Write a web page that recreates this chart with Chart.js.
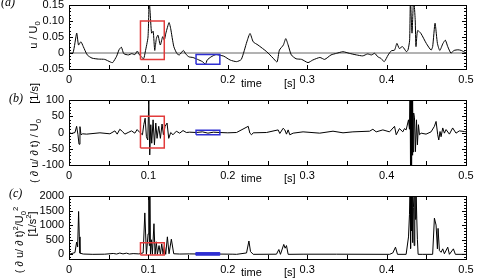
<!DOCTYPE html>
<html>
<head>
<meta charset="utf-8">
<script src="https://cdn.jsdelivr.net/npm/chart.js@4.4.1/dist/chart.umd.min.js"></script>
<style>
body { margin: 0; width: 477px; height: 278px; position: relative; overflow: hidden; background: #fff;
       font-family: "Liberation Sans", Arial, sans-serif; color: #000; }
canvas { position: absolute; left: 0; }
.tag { position: absolute; font-family: "Liberation Serif", serif; font-style: italic; font-size: 12px; }
.ytitle { position: absolute; transform: translate(-50%, -50%) rotate(-90deg); white-space: nowrap; font-size: 11px; }
.xtitle { position: absolute; font-size: 11px; white-space: nowrap; }
sub, sup { font-size: 70%; line-height: 0; }
</style>
</head>
<body>
<canvas id="chartA" width="477" height="90" style="top:0px"></canvas>
<canvas id="chartB" width="477" height="95" style="top:90px"></canvas>
<canvas id="chartC" width="477" height="93" style="top:185px"></canvas>

<div class="tag" style="left:1px; top:-5px">(a)</div>
<div class="tag" style="left:9px; top:91px">(b)</div>
<div class="tag" style="left:9px; top:186px">(c)</div>

<div class="ytitle" style="left:33px; top:35px">u / U<sub>0</sub></div>
<div class="ytitle" style="left:34px; top:133px">( &#8706; u/ &#8706; t) / U<sub>0</sub>&nbsp;&nbsp;&nbsp;&nbsp;&nbsp;[1/s]</div>
<div class="ytitle" style="left:19px; top:240px">( &#8706; u/ &#8706; t)<sup>2</sup>/U<sub>0</sub><sup>2</sup></div>
<div class="ytitle" style="left:32px; top:224px">[1/s<sup>2</sup>]</div>

<div class="xtitle" style="left:241px; top:77px">time</div>
<div class="xtitle" style="left:284px; top:77px">[s]</div>
<div class="xtitle" style="left:241px; top:172px">time</div>
<div class="xtitle" style="left:284px; top:172px">[s]</div>
<div class="xtitle" style="left:241px; top:266px">time</div>
<div class="xtitle" style="left:284px; top:266px">[s]</div>

<script>
// tick values and labels
var xTickVals = [0, 0.1, 0.2, 0.3, 0.4, 0.5];
var xTickLabels = ['0', '0.1', '0.2', '0.3', '0.4', '0.5'];
var yTickValsA = [-0.05, 0, 0.05, 0.1, 0.15];
var yTickLabelsA = ['-0.05', '0', '0.05', '0.10', '0.15'];
var yTickValsB = [-100, -50, 0, 50, 100];
var yTickLabelsB = ['-100', '-50', '0', '50', '100'];
var yTickValsC = [0, 500, 1000, 1500, 2000];
var yTickLabelsC = ['0', '500', '1000', '1500', '2000'];

// (a) u / U0 against time [s]
var velocityA = [
    [0, 0], [0.005, 0], [0.0097, 0.062], [0.012, 0.025], [0.015, 0.035], [0.018, 0.02], [0.023, -0.006],
    [0.029, -0.016], [0.037, -0.019], [0.045, -0.02], [0.052, -0.028], [0.055, -0.03], [0.06, -0.01],
    [0.063, 0.01], [0.066, 0.018], [0.069, -0.002], [0.075, -0.006], [0.079, -0.002], [0.083, -0.005],
    [0.086, 0.006], [0.088, -0.003], [0.091, -0.012], [0.094, -0.018], [0.096, 0.003], [0.0995, 0.05],
    [0.101, 0.165], [0.102, 0.134], [0.104, 0.062], [0.106, 0.068], [0.108, 0.008], [0.11, 0.045],
    [0.112, 0.056], [0.115, 0.025], [0.118, 0.051], [0.12, 0.04], [0.122, 0.062], [0.126, 0.095],
    [0.128, 0.077], [0.132, 0.02], [0.136, -0.002], [0.139, -0.006], [0.144, 0.008], [0.147, -0.003],
    [0.151, -0.012], [0.156, -0.014], [0.162, -0.02], [0.168, -0.027], [0.172, -0.035], [0.174, -0.022],
    [0.179, -0.012], [0.185, -0.005], [0.19, -0.007], [0.195, -0.01], [0.203, -0.022], [0.211, -0.027],
    [0.217, -0.02], [0.224, 0.035], [0.228, 0.061], [0.232, 0.035], [0.238, 0.025], [0.249, 0.004],
    [0.257, -0.016], [0.262, -0.028], [0.265, 0.009], [0.27, 0.025], [0.273, 0.045], [0.276, 0.025],
    [0.28, -0.006], [0.286, -0.018], [0.293, -0.02], [0.301, -0.03], [0.307, -0.022], [0.316, -0.014],
    [0.322, -0.02], [0.33, -0.006], [0.337, -0.001], [0.345, 0.004], [0.353, -0.001], [0.362, -0.006],
    [0.37, -0.009], [0.376, -0.003], [0.381, -0.006], [0.385, -0.001], [0.389, -0.012], [0.393, -0.017],
    [0.397, -0.027], [0.402, -0.006], [0.406, 0.007], [0.41, 0.009], [0.413, 0.03], [0.416, 0.014],
    [0.42, 0.02], [0.425, 0.004], [0.427, 0.01], [0.429, 0.04], [0.430, 0.17], [0.432, 0.062],
    [0.434, 0.17], [0.436, 0.105], [0.437, 0.02], [0.439, 0.07], [0.443, 0.062], [0.45, 0.03],
    [0.456, 0.009], [0.458, 0.02], [0.461, 0.093], [0.464, 0.03], [0.467, 0.008], [0.471, 0.03],
    [0.474, 0.04], [0.477, 0.02], [0.481, 0.0], [0.485, 0.008], [0.49, 0.01], [0.494, 0.008], [0.5, 0.0]
];
var zeroLineA = [[0, 0], [0.5, 0]];

// (b) (du/dt) / U0 [1/s]
var derivB = [
    [0, 0], [0.0033, -3], [0.0075, 0], [0.0096, 19], [0.0113, -7], [0.0126, -36], [0.0138, 18],
    [0.0151, -7], [0.0172, -4], [0.0222, -5], [0.039, -1], [0.0515, -4], [0.0578, 5], [0.0607, -5],
    [0.064, 10], [0.0674, 3], [0.0703, -5], [0.0745, 0], [0.0787, 5], [0.0829, -2], [0.0858, 9],
    [0.0892, 0], [0.0925, -7], [0.0942, 24], [0.0959, 44], [0.0975, -13], [0.0992, -23], [0.1005, 98],
    [0.1017, -69], [0.103, 24], [0.1042, -33], [0.1059, 39], [0.1076, -38], [0.1093, 29], [0.1109, -18],
    [0.113, 19], [0.1151, -18], [0.1172, 26], [0.1189, -7], [0.121, 19], [0.1235, 29], [0.1256, -18],
    [0.1281, 0], [0.131, -7], [0.1352, 4], [0.1394, -2], [0.1436, 6], [0.1478, 0], [0.152, 1],
    [0.1603, 0], [0.168, 2], [0.175, -2], [0.182, 1], [0.19, 0], [0.2, -1], [0.211, 0], [0.2257, 19],
    [0.2278, -2], [0.2299, -7], [0.232, -1], [0.2487, 0], [0.2634, 8], [0.2655, -3], [0.2697, 13],
    [0.2718, 8], [0.2739, -5], [0.276, 8], [0.2781, -7], [0.2823, -2], [0.2948, 2], [0.3158, -2],
    [0.3325, 4], [0.3451, -1], [0.3576, 2], [0.3786, 4], [0.3827, 10], [0.3869, 2], [0.3953, 8],
    [0.4037, 2], [0.41, 19], [0.4121, -7], [0.4162, 12], [0.4204, 2], [0.4225, 12], [0.4246, 8],
    [0.4276, 39], [0.4288, 10], [0.4296, 160], [0.4299, -160], [0.4302, 160], [0.4305, -160],
    [0.4308, 160], [0.4311, -160], [0.4314, 160], [0.4317, -160], [0.432, 160], [0.4325, -70],
    [0.433, 80], [0.4335, -60], [0.4341, 60], [0.4351, 45], [0.4363, -59], [0.4376, 39], [0.4388, -38],
    [0.4401, 24], [0.4414, -7], [0.4435, -2], [0.4497, -5], [0.456, 2], [0.4602, 19], [0.4623, 34],
    [0.4644, -7], [0.4657, -23], [0.4673, 3], [0.4686, -13], [0.4707, 14], [0.4728, -2], [0.4749, 9],
    [0.4791, -5], [0.4832, 14], [0.4874, -2], [0.4916, 5], [0.4979, 3], [0.5, 2]
];

// (c) (du/dt)^2 / U0^2 [1/s^2]
var squareC = [
    [0, 0], [0.0075, 60], [0.0096, 420], [0.0109, 250], [0.0121, 1470], [0.013, 600], [0.0138, 40],
    [0.018, 10], [0.03, 0], [0.045, 5], [0.0557, 30], [0.06, 10], [0.064, 45], [0.068, 15], [0.0724, 40],
    [0.076, 10], [0.0808, 25], [0.088, 15], [0.0934, 50], [0.0955, 1420], [0.0975, 0], [0.0996, 700],
    [0.1006, 2300], [0.1012, 300], [0.1018, 2300], [0.1026, 0], [0.1038, 500], [0.105, 0], [0.107, 1050],
    [0.1084, 0], [0.11, 430], [0.1113, 0], [0.1134, 300], [0.1151, 0], [0.1168, 360], [0.1185, 0],
    [0.1201, 300], [0.1218, 0], [0.1239, 600], [0.126, 20], [0.1289, 520], [0.1319, 20], [0.1394, 10],
    [0.152, 15], [0.17, 10], [0.1855, 10], [0.2064, 5], [0.211, 0], [0.2236, 47], [0.2266, 457],
    [0.2286, 95], [0.232, 0], [0.2613, 5], [0.2643, 165], [0.2663, 0], [0.2705, 340], [0.2722, 210],
    [0.2739, 300], [0.276, 0], [0.2948, 5], [0.3367, 5], [0.4037, 0], [0.4078, 47], [0.4112, 246],
    [0.4137, 0], [0.4246, 0], [0.4276, 597], [0.4288, 1357], [0.4296, 2300], [0.4302, 200],
    [0.4308, 2300], [0.4314, 800], [0.432, 2300], [0.4326, 400], [0.4332, 2300], [0.434, 1600],
    [0.4347, 300], [0.4355, 2300], [0.4363, 1200], [0.437, 2300], [0.438, 1240], [0.4388, 500],
    [0.4397, 0], [0.4456, 0], [0.458, 0], [0.4602, 1240], [0.4623, 1004], [0.464, 188], [0.4648, 890],
    [0.4665, 130], [0.4686, 70], [0.4707, 188], [0.4728, 20], [0.477, 246], [0.4791, 0], [0.4841, 188],
    [0.4866, 0], [0.5, 0]
];

// highlighted windows [t0, t1] and [v0, v1]
var redT = [0.09, 0.12];
var blueT = [0.16, 0.19];
var redA = [-0.02, 0.10];
var blueA = [-0.035, -0.005];
var redB = [-48, 50];
var blueB = [-7, 7];
var redC = [-25, 400];
var blueC = [-30, 60];

var tickFont = { family: '"Liberation Sans", Arial, sans-serif', size: 11 };

// frame with inward ticks on all four sides
var frameTicks = {
    id: 'frameTicks',
    afterDatasetsDraw: function (chart, args, opts) {
        var ctx = chart.ctx, a = chart.chartArea;
        var xs = chart.scales.x, ys = chart.scales.y;
        ctx.save();
        ctx.strokeStyle = '#000';
        ctx.lineWidth = 1;
        ctx.strokeRect(Math.round(a.left) + 0.5, Math.round(a.top) + 0.5,
            Math.round(a.right - a.left), Math.round(a.bottom - a.top));
        ctx.beginPath();
        for (var i = 0; i <= 10; i++) {
            var px = Math.round(xs.getPixelForValue(i * 0.05)) + 0.5;
            ctx.moveTo(px, a.bottom); ctx.lineTo(px, a.bottom - 4);
            ctx.moveTo(px, a.top); ctx.lineTo(px, a.top + 4);
        }
        var step = opts.minor, major = opts.major;
        for (var k = Math.ceil(ys.min / step); k * step <= ys.max + 1e-9; k++) {
            var v = k * step;
            var r = v / major;
            var len = Math.abs(r - Math.round(r)) < 1e-6 ? 4 : 2;
            var py = Math.round(ys.getPixelForValue(v)) + 0.5;
            ctx.moveTo(a.left, py); ctx.lineTo(a.left + len, py);
            ctx.moveTo(a.right, py); ctx.lineTo(a.right - len, py);
        }
        ctx.stroke();
        ctx.restore();
    }
};

function toPoints(pairs) {
    return pairs.map(function (p) { return { x: p[0], y: p[1] }; });
}

function boxPoints(tr, vr) {
    return [{ x: tr[0], y: vr[0] }, { x: tr[1], y: vr[0] }, { x: tr[1], y: vr[1] },
            { x: tr[0], y: vr[1] }, { x: tr[0], y: vr[0] }];
}

function makePanel(id, pad, xHeight, yMin, yMax, yVals, yLabels, minor, major, datasets) {
    var ctx = document.getElementById(id).getContext('2d');
    return new Chart(ctx, {
        type: 'line',
        data: { datasets: datasets },
        options: {
            responsive: false,
            animation: false,
            layout: { padding: { left: 0, right: 11, top: pad, bottom: 0 } },
            elements: { point: { radius: 0 }, line: { borderWidth: 1, tension: 0 } },
            plugins: { legend: { display: false }, tooltip: { enabled: false },
                       frameTicks: { minor: minor, major: major } },
            scales: {
                x: {
                    type: 'linear', min: 0, max: 0.5,
                    grid: { display: false, drawTicks: false }, border: { display: false },
                    afterBuildTicks: function (s) { s.ticks = xTickVals.map(function (v) { return { value: v }; }); },
                    afterFit: function (s) { s.height = xHeight; s.paddingLeft = 0; s.paddingRight = 0; },
                    ticks: { padding: 4, color: '#000', font: tickFont, maxRotation: 0, autoSkip: false,
                             callback: function (v, i) { return xTickLabels[i]; } }
                },
                y: {
                    type: 'linear', min: yMin, max: yMax,
                    grid: { display: false, drawTicks: false }, border: { display: false },
                    afterBuildTicks: function (s) { s.ticks = yVals.map(function (v) { return { value: v }; }); },
                    afterFit: function (s) { s.width = 69; s.paddingTop = 0; s.paddingBottom = 0; },
                    ticks: { padding: 5, color: '#000', font: tickFont, autoSkip: false,
                             callback: function (v, i) { return yLabels[i]; } }
                }
            }
        },
        plugins: [frameTicks]
    });
}

var red = '#e23b3b', blue = '#2f2fd2';

var chartA = makePanel('chartA', 5, 21, -0.05, 0.15, yTickValsA, yTickLabelsA, 0.01, 0.05, [
    { data: boxPoints(redT, redA), borderColor: red, borderWidth: 1.5 },
    { data: boxPoints(blueT, blueA), borderColor: blue, borderWidth: 1.5 },
    { data: toPoints(velocityA), borderColor: '#000', borderWidth: 1, tension: 0.2 },
    { data: toPoints(zeroLineA), borderColor: '#666', borderWidth: 1 }
]);

var chartB = makePanel('chartB', 10, 20, -100, 100, yTickValsB, yTickLabelsB, 10, 50, [
    { data: boxPoints(redT, redB), borderColor: red, borderWidth: 1.5 },
    { data: boxPoints(blueT, blueB), borderColor: blue, borderWidth: 1.5 },
    { data: toPoints(derivB), borderColor: '#000', borderWidth: 1 }
]);

var chartC = makePanel('chartC', 11, 19, -160, 2000, yTickValsC, yTickLabelsC, 100, 500, [
    { data: boxPoints(redT, redC), borderColor: red, borderWidth: 1.5 },
    { data: boxPoints(blueT, blueC), borderColor: blue, borderWidth: 1, backgroundColor: blue, fill: 'shape' },
    { data: toPoints(squareC), borderColor: '#000', borderWidth: 1 }
]);
</script>
</body>
</html>
